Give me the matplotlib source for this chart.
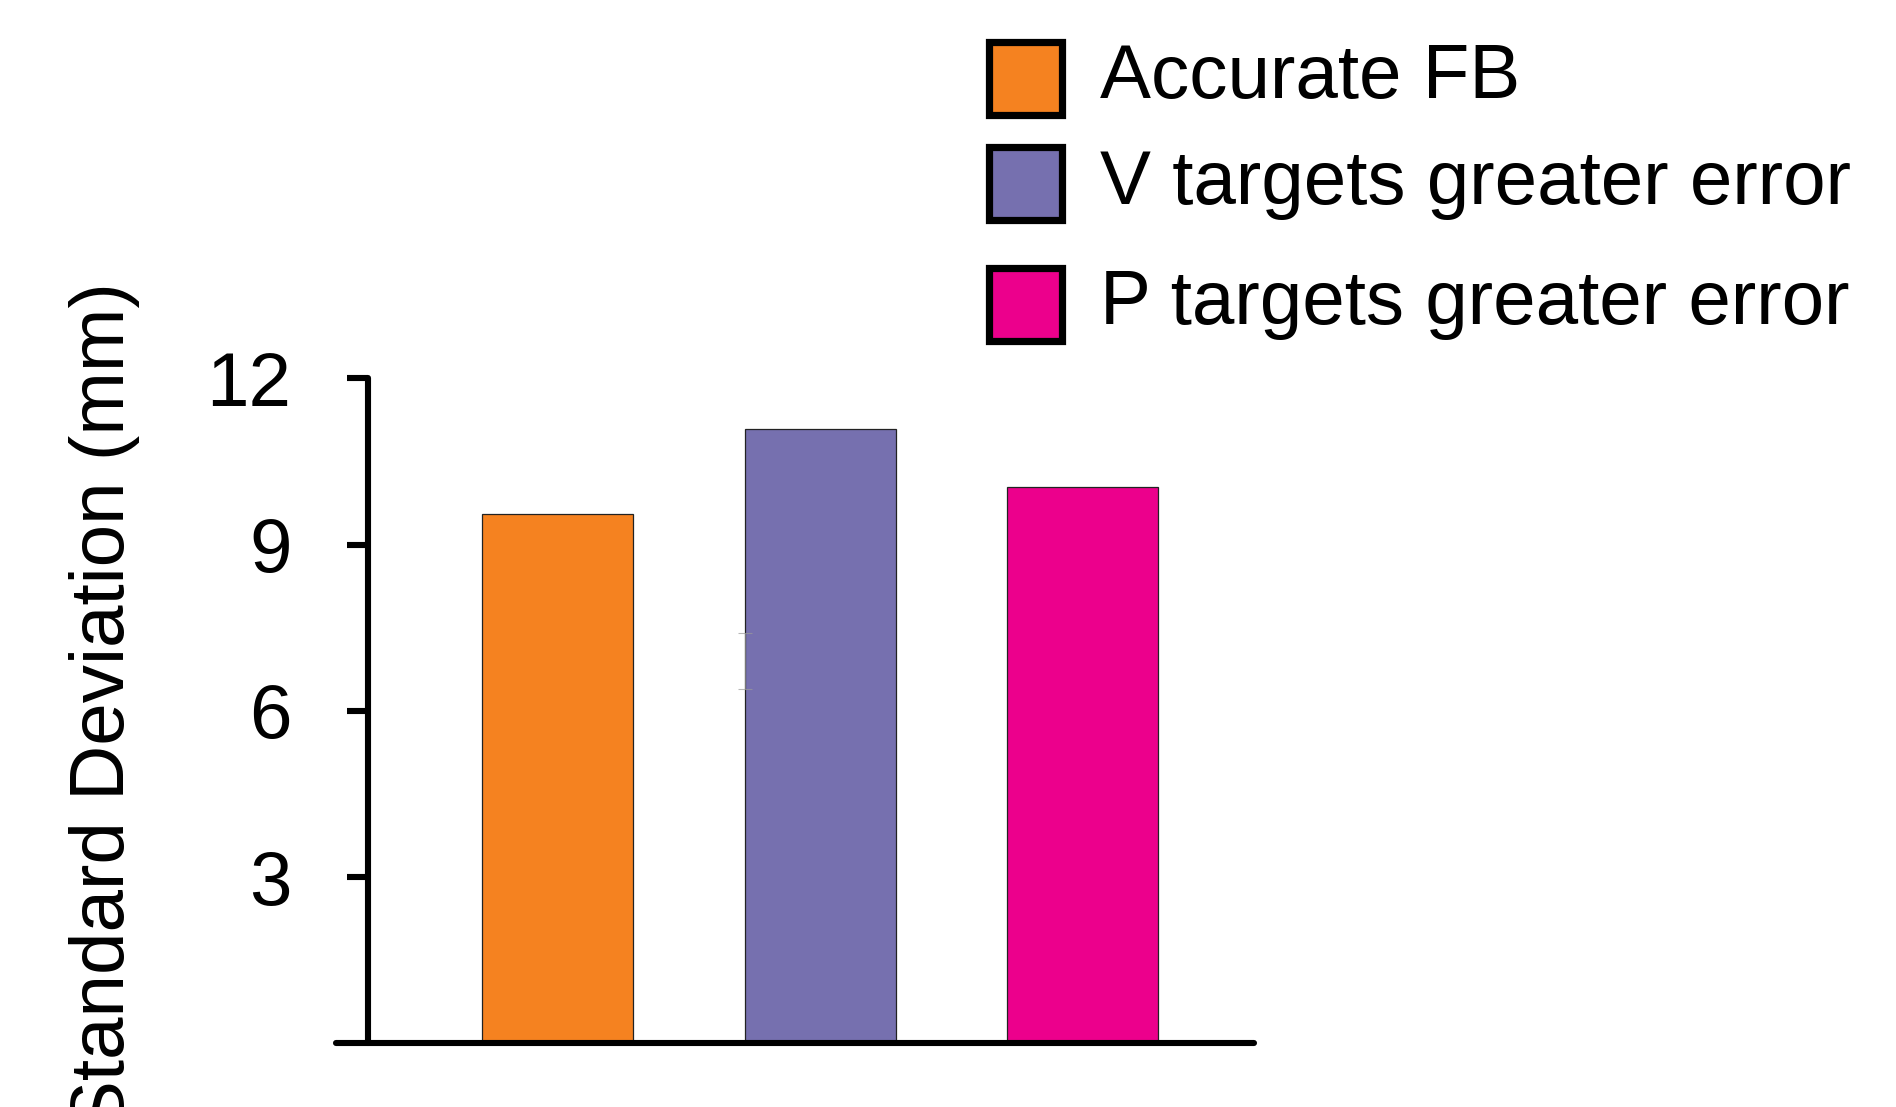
import matplotlib
matplotlib.use("Agg")
import matplotlib.pyplot as plt
from matplotlib.patches import Rectangle

plt.rcParams["font.family"] = ["Liberation Sans", "DejaVu Sans"]

conditions = ["Accurate FB", "V targets greater error", "P targets greater error"]
sd_values = [9.56, 11.08, 10.04]
colors = ["#F58220", "#7670AF", "#EC008C"]
y_ticks = [3, 6, 9, 12]
# faint leftover error bar sitting on the left edge of the second bar
ghost_mean = 6.9
ghost_err = 0.5

bar_width = 0.575

fig = plt.figure(figsize=(18.96, 11.07), dpi=100)
ax = fig.add_axes([0.1772, 0.0574, 0.4842, 0.6007])

x = list(range(len(sd_values)))
ax.bar(x, sd_values, width=bar_width, color=colors, edgecolor="#222222", linewidth=0.9, zorder=2)
ax.errorbar([1 - bar_width / 2], [ghost_mean], yerr=[ghost_err], color="#9a9a9a",
            linewidth=0.8, capsize=5, capthick=0.8, alpha=0.7, zorder=3)

ax.set_xlim(-0.844, 2.653)
ax.set_ylim(0, 12)

for s in ["top", "right"]:
    ax.spines[s].set_visible(False)
ax.spines["left"].set_position(("data", -0.722))
ax.spines["left"].set_bounds(0, 12)
for s in ["left", "bottom"]:
    ax.spines[s].set_linewidth(4.4)
    ax.spines[s].set_capstyle("round")
ax.spines["left"].set_zorder(4)
ax.spines["bottom"].set_zorder(4)

ax.set_xticks([])
ax.set_yticks(y_ticks)
ax.set_yticklabels([str(t) for t in y_ticks])
ax.tick_params(axis="y", direction="out", length=15, width=4.4, labelsize=55, pad=40)
for t in ax.yaxis.get_ticklines():
    t.set_clip_on(False)

fig.text(105 / 1896, 1 - 707 / 1107, "Standard Deviation (mm)", rotation=90,
         ha="center", va="center", fontsize=55)

# legend drawn by hand to keep the uneven spacing
box_tops = [39.9, 145.0, 266.0]
for label, col, top in zip(conditions, colors, box_tops):
    fig.patches.append(Rectangle((989 / 1896, 1 - (top + 75) / 1107), 73 / 1896, 73 / 1107,
                                 transform=fig.transFigure, facecolor=col,
                                 edgecolor="black", linewidth=5.2))
    fig.text(1100 / 1896, 1 - (top + 31) / 1107, label, ha="left", va="center_baseline",
             fontsize=55)

fig.savefig("out.png", dpi=100)
